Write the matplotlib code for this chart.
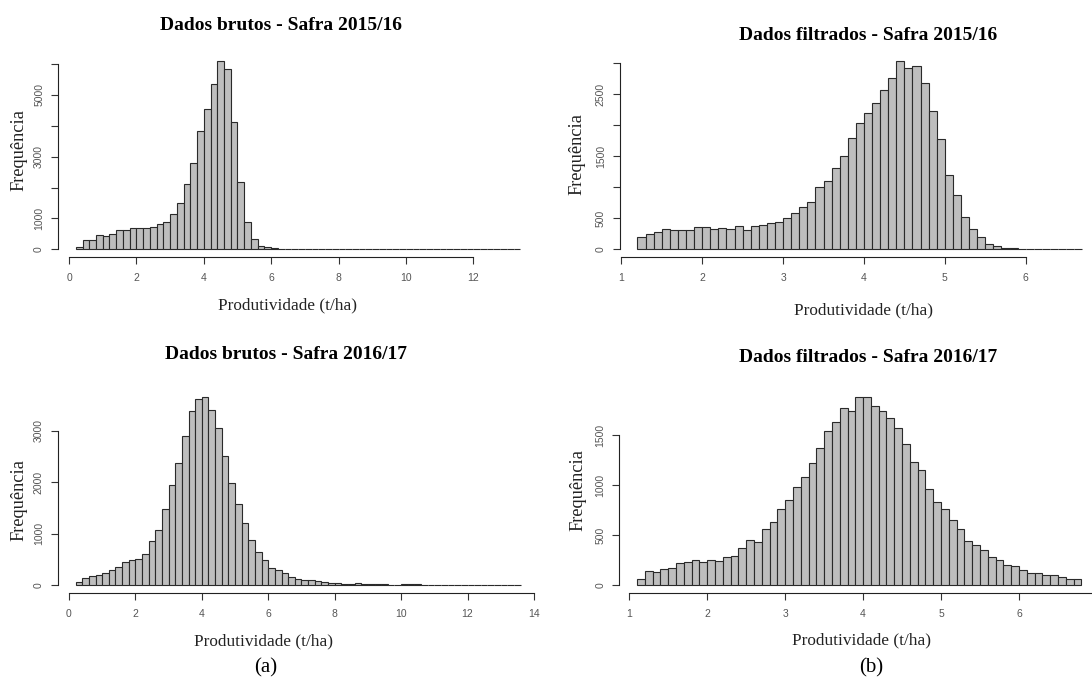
import numpy as np
import matplotlib
matplotlib.use("Agg")
import matplotlib.pyplot as plt

W, H = 1092, 677

# contagens por classe (leitura do grafico)
brutos_1516_start, brutos_1516_bw = 0.2, 0.2
brutos_1516 = [90, 310, 310, 460, 440, 485, 640, 640, 690, 690, 690, 720, 810, 900,
               1130, 1490, 2100, 2810, 3820, 4560, 5370, 6090, 5830, 4140, 2180, 900,
               320, 120, 65, 30, 20,
               8, 5, 3, 2, 2, 1, 1, 1, 1, 0, 0, 0, 1, 0, 0, 0, 0, 0, 0, 0, 0, 0, 0,
               0, 0, 0, 0, 0, 0, 0, 0, 0, 0, 0, 1]

filtrados_1516_start, filtrados_1516_bw = 1.2, 0.1
filtrados_1516 = [199, 242, 274, 333, 312, 312, 312, 360, 360, 333, 344, 333, 376, 312,
                  376, 392, 425, 446, 500, 580, 677, 769, 1005, 1097, 1312, 1500, 1800,
                  2043, 2204, 2366, 2565, 2769, 3032, 2919, 2957, 2688, 2226, 1785, 1204,
                  871, 522, 323, 204, 91, 54, 27, 27, 11, 4, 2, 1, 1, 0, 0, 1]

brutos_1617_start, brutos_1617_bw = 0.2, 0.2
brutos_1617 = [52, 136, 169, 195, 227, 299, 344, 442, 487, 506, 597, 851, 1065, 1487,
               1948, 2383, 2909, 3396, 3623, 3662, 3416, 3065, 2519, 1981, 1571, 1201,
               870, 645, 481, 325, 286, 227, 162, 123, 97, 91, 71, 52, 39, 39, 26, 26,
               39, 26, 20, 20, 20, 8, 8, 20, 20, 20,
               2, 1, 0, 0, 1, 0, 0, 0, 0, 0, 0, 0, 0, 0, 1]

filtrados_1617_start, filtrados_1617_bw = 1.1, 0.1
filtrados_1617 = [57, 143, 130, 157, 167, 217, 227, 250, 227, 250, 243, 277, 293, 367,
                  447, 430, 563, 633, 763, 847, 980, 1077, 1217, 1367, 1543, 1630, 1773,
                  1740, 1877, 1877, 1793, 1740, 1673, 1573, 1407, 1227, 1147, 963, 827,
                  757, 650, 557, 440, 397, 347, 280, 247, 197, 190, 147, 117, 117, 97,
                  97, 80, 57, 57]

titles = ["Dados brutos - Safra 2015/16", "Dados filtrados - Safra 2015/16",
          "Dados brutos - Safra 2016/17", "Dados filtrados - Safra 2016/17"]

panels = [
    dict(start=brutos_1516_start, bw=brutos_1516_bw, counts=brutos_1516,
         rect=(58, 538.2, 53.8, 256.8),
         xt=[0, 2, 4, 6, 8, 10, 12], xl=["0", "2", "4", "6", "8", "10", "12"],
         yt=[0, 1000, 2000, 3000, 4000, 5000, 6000],
         yl=["0", "1000", "", "3000", "", "5000", ""],
         title=(281, 26), xlab=(288, 305), ylab=(19, 150)),
    dict(start=filtrados_1516_start, bw=filtrados_1516_bw, counts=filtrados_1516,
         rect=(619.7, 1100.1, 53.8, 256.8),
         xt=[1, 2, 3, 4, 5, 6], xl=["1", "2", "3", "4", "5", "6"],
         yt=[0, 500, 1000, 1500, 2000, 2500, 3000],
         yl=["0", "500", "", "1500", "", "2500", ""],
         title=(868, 36), xlab=(864, 310), ylab=(577, 154)),
    dict(start=brutos_1617_start, bw=brutos_1617_bw, counts=brutos_1617,
         rect=(57.8, 538.5, 389.5, 592.5),
         xt=[0, 2, 4, 6, 8, 10, 12, 14], xl=["0", "2", "4", "6", "8", "10", "12", "14"],
         yt=[0, 1000, 2000, 3000], yl=["0", "1000", "2000", "3000"],
         title=(286, 354), xlab=(263, 641), ylab=(19, 500)),
    dict(start=filtrados_1617_start, bw=filtrados_1617_bw, counts=filtrados_1617,
         rect=(619.3, 1099.1, 389.8, 592.5),
         xt=[1, 2, 3, 4, 5, 6, 7], xl=["1", "2", "3", "4", "5", "6", ""],
         yt=[0, 500, 1000, 1500], yl=["0", "500", "1000", "1500"],
         title=(868, 357), xlab=(861, 640), ylab=(578, 490)),
]


def r_lim(lo, hi):
    d = 0.04 * (hi - lo)
    return lo - d, hi + d


fig = plt.figure(figsize=(W / 100, H / 100), dpi=100)
fig.patch.set_facecolor("white")

for p, title in zip(panels, titles):
    l, r, t, b = p["rect"]
    ax = fig.add_axes([l / W, 1 - b / H, (r - l) / W, (b - t) / H])
    counts = np.array(p["counts"])
    edges = p["start"] + p["bw"] * np.arange(len(counts) + 1)
    ax.bar(edges[:-1], counts, width=p["bw"], align="edge", color="#bebebe",
           edgecolor="#2a2a2a", linewidth=0.8)
    ax.set_xlim(r_lim(edges[0], edges[-1]))
    ax.set_ylim(r_lim(0, counts.max()))
    ax.set_facecolor("none")
    for s in ["top", "right"]:
        ax.spines[s].set_visible(False)
    ax.spines["left"].set_bounds(p["yt"][0], p["yt"][-1])
    ax.spines["bottom"].set_bounds(p["xt"][0], p["xt"][-1])
    for s in ["left", "bottom"]:
        ax.spines[s].set_linewidth(0.8)
        ax.spines[s].set_color("#222222")
    ax.set_xticks(p["xt"], p["xl"], family="Liberation Sans",
                  fontsize=7.5, color="#555555")
    ax.set_yticks(p["yt"], p["yl"], family="Liberation Sans", fontsize=7.5,
                  color="#555555", rotation=90, va="center")
    ax.tick_params(axis="both", length=5, width=0.8, color="#333333")
    ax.tick_params(axis="x", pad=7)
    ax.tick_params(axis="y", pad=5)

    tx, ty = p["title"]
    fig.text(tx / W, 1 - ty / H, title, ha="center", va="center",
             family="Liberation Serif", fontweight="bold", fontsize=14)
    xx, xy = p["xlab"]
    fig.text(xx / W, 1 - xy / H, "Produtividade (t/ha)", ha="center", va="center",
             family="Liberation Serif", fontsize=12.4, color="#222222")
    yx, yy = p["ylab"]
    fig.text(yx / W, 1 - yy / H, "Frequência", ha="center", va="center",
             rotation=90, family="Liberation Serif", fontsize=13.2, color="#222222")

fig.text(266 / W, 1 - 668 / H, "(a)", ha="center", va="center",
         family="Liberation Serif", fontsize=15)
fig.text(871 / W, 1 - 668 / H, "(b)", ha="center", va="center",
         family="Liberation Serif", fontsize=15)

fig.savefig("out.png", dpi=100)
